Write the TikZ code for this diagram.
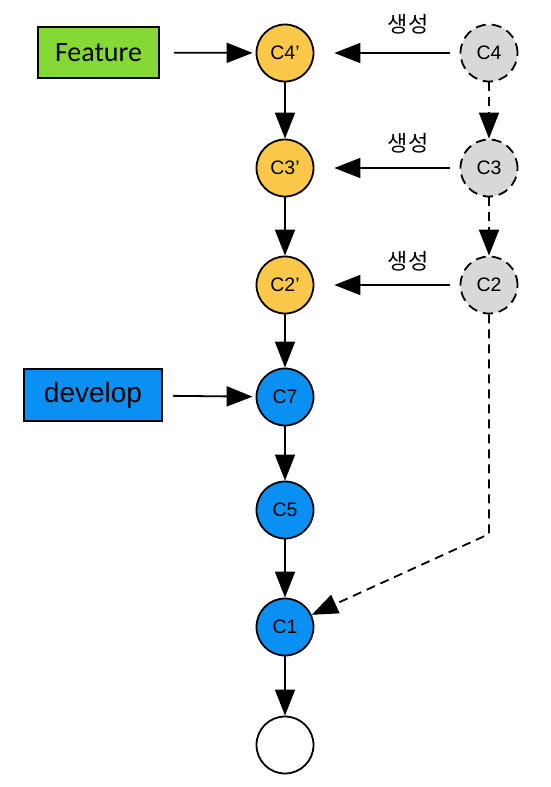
\documentclass[tikz,border=0pt]{standalone}
\usepackage{fontspec}
\setmainfont{Liberation Sans}
\newfontfamily\krfont{Noto Sans CJK KR}
\newfontfamily\calfont{Carlito}
\usetikzlibrary{arrows.meta}
\definecolor{orangec}{HTML}{FBC849}
\definecolor{greyc}{HTML}{D8D8D8}
\definecolor{bluec}{HTML}{0A90F2}
\definecolor{greenc}{HTML}{85D935}
\begin{document}
\begin{tikzpicture}[x=1pt,y=-1pt,
  commit/.style={circle,draw=black,line width=1.8pt,minimum size=57pt,inner sep=0pt,
    font=\fontsize{19.5}{21}\selectfont},
  orangecommit/.style={commit,fill=orangec},
  bluecommit/.style={commit,fill=bluec},
  ghost/.style={commit,fill=greyc,dash pattern=on 10pt off 6pt},
  branchbox/.style={draw=black,line width=1.8pt,inner sep=0pt},
  arr/.style={line width=1.8pt,-{Triangle[length=26pt,width=20pt]}},
  dasharr/.style={arr,dash pattern=on 9pt off 6pt},
  lbl/.style={font=\krfont\fontsize{22}{24}\selectfont,inner sep=0pt}]
\useasboundingbox (0,0) rectangle (551,787);
% left column
\node[orangecommit] (c4p) at (285,53) {C4’};
\node[orangecommit] (c3p) at (285,168) {C3’};
\node[orangecommit] (c2p) at (285,285) {C2’};
\node[bluecommit] (c7) at (285,397) {C7};
\node[bluecommit] (c5) at (285,510) {C5};
\node[bluecommit] (c1) at (285,627) {C1};
\node[commit,fill=white] (c0) at (285,745) {};
% right column
\node[ghost] (c4) at (489,53) {C4};
\node[ghost] (c3) at (489,168) {C3};
\node[ghost] (c2) at (489,285) {C2};
% branch labels
\node[branchbox,fill=greenc,minimum width=121pt,minimum height=51pt,
  font=\calfont\fontsize{28}{30}\selectfont] (feature) at (98.5,52.5) {Feature};
\node[branchbox,fill=bluec,minimum width=138pt,minimum height=52pt,
  font=\fontsize{28}{30}\selectfont] (develop) at (93,395) {develop};
\coordinate (corner) at (489,534);
% connectors
\draw[arr] (c4p) -- (c3p);
\draw[arr] (c3p) -- (c2p);
\draw[arr] (c2p) -- (c7);
\draw[arr] (c7) -- (c5);
\draw[arr] (c5) -- (c1);
\draw[arr] (c1) -- (c0);
\draw[dasharr] (c4) -- (c3);
\draw[dasharr] (c3) -- (c2);
\draw[dasharr] (c2.south) -- (corner) -- (c1);
\draw[arr,shorten <=14pt,shorten >=3pt] (feature) -- (c4p);
\draw[arr,shorten <=10pt,shorten >=3pt] (develop) -- (c7);
\draw[arr,shorten <=10pt,shorten >=20pt] (c4) -- (c4p);
\draw[arr,shorten <=10pt,shorten >=20pt] (c3) -- (c3p);
\draw[arr,shorten <=10pt,shorten >=20pt] (c2) -- (c2p);
% labels
\node[lbl] (l4) at (408,24) {생성};
\node[lbl] (l3) at (408,143) {생성};
\node[lbl] (l2) at (408,261) {생성};
\end{tikzpicture}
\end{document}
